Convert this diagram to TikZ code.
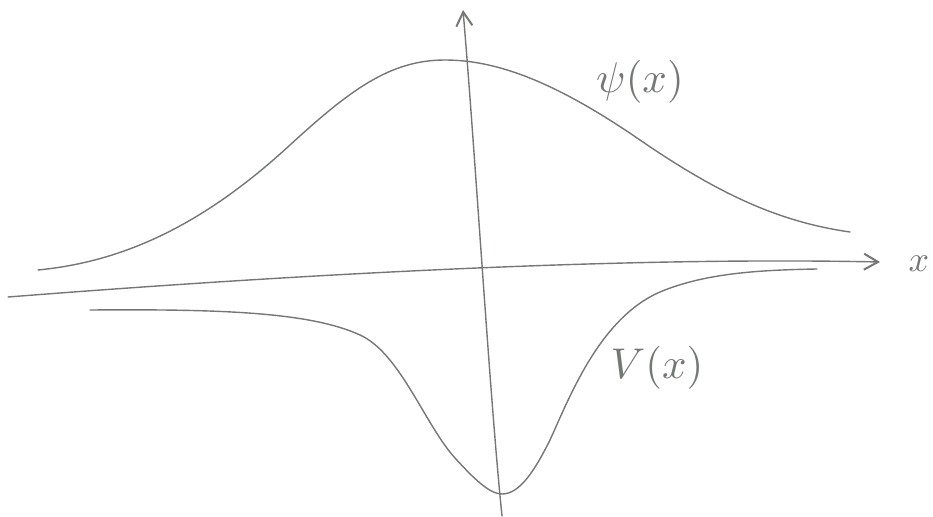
\documentclass[tikz,border=0pt]{standalone}
\usetikzlibrary{arrows.meta}
\definecolor{pencil}{RGB}{115,120,115}
\tikzset{
  sketch/.style={draw=pencil, line width=1.4pt, line cap=round, line join=round},
  axisline/.style={sketch, -{Straight Barb[length=14pt,width=16pt,line width=2pt]}},
  lbl/.style={text=pencil, inner sep=0pt}
}
\begin{document}
\begin{tikzpicture}[x=1pt,y=-1pt]
\useasboundingbox (0,0) rectangle (933,516);
% axes
\coordinate (xl) at (8,297);
\coordinate (xr) at (880,262);
\coordinate (yb) at (502,516);
\coordinate (yt) at (463,10);
\node[lbl] (xlab) at (919,264) {\scalebox{3.6}{$x$}};
\draw[axisline] (xl) .. controls (250,278) and (600,256) .. (xr);
\draw[axisline] (yb) .. controls (490,400) and (475,150) .. (yt);
% psi curve
\draw[sketch] (38,270) .. controls (120,262) and (200,228) .. (290,145)
  .. controls (350,90) and (390,60) .. (445,60)
  .. controls (500,60) and (560,85) .. (640,140)
  .. controls (720,195) and (780,222) .. (850,232);
% V curve
\draw[sketch] (90,310) .. controls (220,309) and (310,312) .. (360,335)
  .. controls (400,353) and (425,425) .. (455,458)
  .. controls (475,480) and (490,494) .. (502,494)
  .. controls (520,494) and (535,470) .. (550,440)
  .. controls (570,396) and (600,318) .. (660,292)
  .. controls (705,273) and (760,270) .. (817,269);
% labels
\node[lbl] (psilab) at (640,82) {\scalebox{4.3}{$\psi(x)$}};
\node[lbl] (vlab) at (657,368) {\scalebox{4.3}{$V(x)$}};
\end{tikzpicture}
\end{document}
